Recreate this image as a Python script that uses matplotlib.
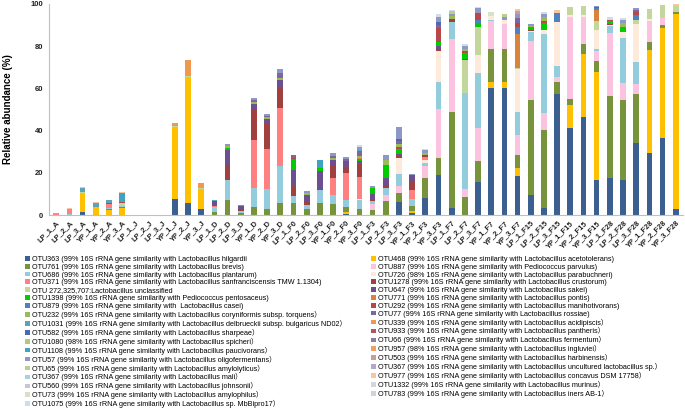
import matplotlib
matplotlib.use('Agg')
import matplotlib.pyplot as plt
from matplotlib.patches import Patch
import numpy as np

plt.rcParams['font.family'] = ['Liberation Sans', 'Noto Sans CJK SC', 'DejaVu Sans']

samples = ['LP_1_A', 'LP_2_A', 'LP_3_A', 'YP_1_A', 'YP_2_A', 'YP_3_A',
           'LP_1_J', 'LP_2_J', 'LP_3_J', 'YP_1_J', 'YP_2_J', 'YP_3_J',
           'LP_1_D', 'LP_2_D', 'LP_3_D', 'YP_1_D', 'YP_2_D', 'YP_3_D',
           'LP_1_F0', 'LP_2_F0', 'LP_3_F0', 'YP_1_F0', 'YP_2_F0', 'YP_3_F0',
           'LP_1_F3', 'LP_2_F3', 'LP_3_F3', 'YP_1_F3', 'YP_2_F3', 'YP_3_F3',
           'LP_1_F7', 'LP_2_F7', 'LP_3_F7', 'YP_1_F7', 'YP_2_F7', 'YP_3_F7',
           'LP_1_F15', 'LP_2_F15', 'LP_3_F15', 'YP_1_F15', 'YP_2_F15', 'YP_3_F15',
           'LP_1_F28', 'LP_2_F28', 'LP_3_F28', 'YP_1_F28', 'YP_2_F28', 'YP_3_F28']
N = len(samples)

#            A                          J                          D                              F0                          F3                            F7                              F15                              F28
otu363  = [0,0,1.4,0,0,0,              0,0,0,7.4,5.7,2.7,         0,0,0,0,0,0,                   0,0,0,0,0.5,0,              0,0,6.0,1.0,8.2,18.9,         3.2,0,15.7,60.2,60.2,18.5,     9.5,3.2,57.4,41.2,46.3,16.6,     17.3,16.6,34.1,29.3,36.6,3.0]
otu468  = [0,0,8.6,3.3,2.4,3.4,        0,0,0,34.3,59.6,9.5,       0,0,0,0,0,0,                   0,0,0,0,0.9,0,              0,0,0,1.0,0,0,                0,0,0,2.6,3.0,4.0,             0,0,0,10.9,29.9,51.4,            0,0,0,48.7,51.8,92.4]
otu761  = [0,0.2,0,0,0.3,0.4,          0,0,0,0,0,0,               1.5,7.0,0.8,3.8,2.7,5.9,       5.7,2.7,5.9,5.1,2.4,3.0,    2.6,6.7,4.6,2.5,9.5,8.2,      45.6,8.7,9.7,15.8,15.4,5.9,    45.2,37.2,5.8,3.1,4.9,4.9,       39.1,37.9,23.1,3.8,1.5,0.8]
otu887  = [0,0,0,0,0,0,                0,0,0,0,0,0,               0,0,0,0,0,0,                   0,0,0,0,0,0,                2.6,3.0,3.0,0,5.4,23.0,       34.6,3.7,15.6,13.4,12.0,9.6,   27.7,7.9,2.1,38.6,12.7,4.6,      29.7,8.1,5.1,10.3,3.3,0]
otu686  = [0,0.4,0.6,0.6,0.8,0.7,      0,0,0,0,0,0,               2.2,9.8,1.3,9.2,9.6,17.2,      3.3,1.9,5.8,4.4,3.5,4.2,    1.2,3.1,5.7,2.9,1.4,12.7,     7.9,45.6,26.2,0.5,0,10.8,      4.1,37.6,5.1,0,0,1.0,            3.3,21.4,10.0,0,0,0]
otu726  = [0,0,0,0,0,0,                0,0,0,0,0,0,               0,0,0,0,0,0,                   0,0,0,0,0,0.5,              0,0,7.8,0,1.6,14.7,           0,0,8.4,1.8,2.0,20.3,          0.5,1.9,20.9,1.2,0.9,9.0,        0.6,2.8,18.2,0.6,0,0]
otu371  = [0.3,2.2,0,0,1.5,0,          0,0,0,0,0,0,               0.4,0,0,22.7,19.1,27.8,        0,0,0,7.8,12.4,10.3,        0,0,0,4.6,1.2,0,              0,0,0,0,0,0,                   0,0,0,0,0,0,                     0,0,0,0,0,0]
otu1278 = [0,0,0,0,0,0,                0,0,0,0,0,0,               0,7.1,0.8,13.9,11.6,10.0,      4.6,2.2,0.8,6.2,2.8,6.1,    0.6,1.2,0.8,4.3,1.2,1.2,      1.6,0,0,0,0,0,                 0.8,0,0,0,0,0,                   0.6,0,0,0,0,0]
otu272  = [0.2,0,0.5,0,0,1.0,          0,0,0,0.4,0.7,0.4,         0,0,0,0,0,0,                   0,0,0,0,0,0,                0,0,0,0,0,0,                  0,15.5,13.7,0,0,0.8,           0,0,0,3.6,4.5,4.3,               0,0,2.0,4.9,6.5,2.8]
otu647  = [0,0,0,0,0,0,                0,0,0,0,0,0,               2.3,6.8,1.5,2.8,2.5,3.0,       7.8,2.7,8.4,2.6,3.0,1.5,    3.0,3.7,1.0,2.7,0,1.5,        0,0.5,0,0,0,0,                 0,0,0,0,0,0,                     0,0,0,0,0,0]
otu1398 = [0,0,0,0,0,0,                0,0,0,0,0,0,               0,1.2,0,0,0,0,                 5.1,0,1.4,0,0,0.8,          3.0,5.9,2.5,0,0,2.0,          0,3.0,1.6,0,0,0,               1.5,3.2,0,0,0,0,                 1.2,2.5,0,0,0,0]
otu771  = [0,0,0,0,0,0,                0,0,0,0,0,0,               0,0,0,0,0,0,                   0,0,0,0,0,0.6,              0,0,0,0,0,0,                  0,0,0,0,0,16.0,                0,0,0,0,0,5.5,                   0,0,0,0,0,0]
otu879  = [0,0,0,0,0,0,                0,0,0,0,0,0,               0,0,0,0,0,0,                   0,0,0,0,0,0,                0,0,0,0,0,0,                  0,0,1.5,0,0,3.0,               0,0,4.2,0,0,0.8,                 0,0,2.5,0,0,0]
otu292  = [0,0,0,0,0.6,0.6,            0,0,0,0,0,0,               0,0,0,0,0,0,                   0.6,0,0,0,0,0,              0,0,0.8,0,0,6.5,              0,0.8,3.2,0,0,2.0,             0,0.8,0,0,0,0.6,                 0.5,0,1.0,0,0,0]
otu232  = [0,0,0,0,0,0,                0,0,0,0,0,0,               0,0.7,0,1.0,0.8,0.9,           0,0.8,0,0.8,0,0.8,          0,2.4,1.5,0,0.8,0,            1.5,1.0,0,0,0,0,               0.5,2.0,0,0,0,0,                 0,1.5,0,0,0,0]
otu77   = [0,0,0,0,0,0,                0,0,0,0,0,0,               0,0,0,1.0,0.8,2.5,             1.1,0,0,1.0,1.0,2.3,        0,0,1.5,0,0,1.5,              0,0,0,0,0,2.5,                 0,0,0,0,0,0,                     0,0,1.2,0,0,0]
otu1031 = [0,0,1.5,1.8,1.5,0,          0,0,0,0,0,0,               0.6,0,0.4,0,0,0,               0,0,0,0,0,0.8,              0,0,0,0,0,0,                  0,0,0,0,0,0,                   0,0,0,0,0,0,                     0,0,0,0,0,0]
otu339  = [0,0,0,0,0,0,                0,0,0,1.5,7.4,2.4,         0,0,0,0,0,0,                   0,0,0,0,0,0,                0,0,0,0,0,0,                  0,0,0,0,0,0,                   0,0,0,0,0,0,                     0,0,0,0,0,0]
otu582  = [0,0,0,0,0,0,                0,0,0,0,0,0,               0,0,0,0,0,0,                   0,0,0,0,0,0,                0,0,1.0,0,0,1.5,              0,0,0,0,0,0,                   0,0,0,0,0,0,                     0,0,0,0,0,0]
otu933  = [0.0] * N
otu1080 = [0.0] * N
otu66   = [0.0] * N
otu1108 = [0,0,0,0,0,4.5,              0,0,0,0,0,0,               0,0,0,0,0,0,                   0,0,3.8,0,0,0,              0,0,0,0,0,0,                  0,0,0,0,0,0,                   0,0,0,0,0,0,                     0,0,0,0,0,0]
otu957  = [0.0] * N
otu57   = [0,0,0,0,0,0,                0,0,0,0,0,0,               0,0.9,0,1.0,0.6,1.8,           0,1.1,0,1.3,0.8,1.5,        0.8,2.4,5.3,0.3,1.5,2.0,      1.0,1.2,2.5,0,1.3,1.9,         0.8,1.6,0,0,0,0.5,               0,1.4,1.1,0,0,0]
otu503  = [0.3,0,0,0,0,0,              0,0,0,0,0,0,               0,0,0,0,0,0,                   0,0,0,0,0,0,                0,0,0,0,0,0,                  0,0,0,0,0,1.5,                 0,0,0,0,0,0,                     0,0,0,0,0,0]
otu65   = [0,0,0,0,0,0,                0,0,0,0,0,0,               0,0,0,0,0,0,                   0,0,0,0,0,0,                0,0,0,0,0,0,                  1.2,0,0,0,1.5,0,               0,0,0,0,0,0,                     0,0,0,0,0,0]
otu367u = [0.0] * N
otu367  = [0.0] * N
otu977  = [0,0.4,0.5,0.3,0,0.4,        0,0,0,0,0,0,               0,0,0,0,0,0,                   0,0,0,0,0,0,                0,0,0,0,0,0,                  0,0,0,0,0,1.0,                 0,0,1.5,0,0,0,                   0,0,0,0,0,1.0]
otu560  = [0.0] * N
otu1332 = [0.0] * N
otu73   = [0,0,0,0,0,0,                0,0,0,0,0,0,               0,0,0,0,0,0,                   0,0,0,0,0,0,                0,0,0,0,0,0,                  0,0,0,1.9,0,0,                 0,0,0,0,0,0,                     0,0,0,0,0,0]
otu783  = [0.0] * N
otu1075 = [0,0,0,0,0,0,                0,0,0,0,0,0,               0,0,0,0,0,0,                   0,0,0,0,0,0.7,              0,0,0.3,0,0.6,1.7,            0.7,1.0,0.5,0,0,0,             0,1.0,0,0,0,0,                   1.4,1.0,0,0,0,0]

S = "16S rRNA gene similarity with"
left_col = [
    ("OTU363 (99% " + S + " Lactobacillus hilgardii", otu363, '#3B5F8F'),
    ("OTU761 (99% " + S + " Lactobacillus brevis)", otu761, '#77933C'),
    ("OTU686 (99% " + S + " Lactobacillus plantarum)", otu686, '#93CDDD'),
    ("OTU371 (99% " + S + " Lactobacillus sanfranciscensis TMW 1.1304)", otu371, '#FF8080'),
    ("OTU 272,325,707:Lactobacillus unclassified", otu272, '#C3D69B'),
    ("OTU1398 (99% " + S + " Pediococcus pentosaceus)", otu1398, '#00CC00'),
    ("OTU879 (99% " + S + "  Lactobacillus casei)", otu879, '#4F81BD'),
    ("OTU232 (99% " + S + " Lactobacillus coryniformis subsp. torquens）", otu232, '#9BBB59'),
    ("OTU1031 (99% " + S + " Lactobacillus delbrueckii subsp. bulgaricus ND02）", otu1031, '#5BA3B8'),
    ("OTU582 (99% " + S + " Lactobacillus sharpeae）", otu582, '#4E68AE'),
    ("OTU1080 (98% " + S + " Lactobacillus spicheri）", otu1080, '#B3C87A'),
    ("OTU1108 (99% " + S + " Lactobacillus paucivorans）", otu1108, '#3FA3C2'),
    ("OTU57 (99% " + S + " Lactobacillus oligofermentans）", otu57, '#8E98C6'),
    ("OTU65 (99% " + S + " Lactobacillus amylolyticus）", otu65, '#B9CF8E'),
    ("OTU367 (99% " + S + " Lactobacillus mali）", otu367, '#A9CFE3'),
    ("OTU560 (99% " + S + " Lactobacillus johnsonii）", otu560, '#C6C6D8'),
    ("OTU73 (99% " + S + " Lactobacillus amylophilus）", otu73, '#D8E0C6'),
    ("OTU1075 (99% " + S + " Lactobacillus sp. MbBipro17）", otu1075, '#CFDDEA'),
]
right_col = [
    ("OTU468 (99% " + S + " Lactobacillus acetotolerans)", otu468, '#FFC000'),
    ("OTU887 (99% " + S + " Pediococcus parvulus)", otu887, '#FBC3E0'),
    ("OTU726 (98% " + S + " Lactobacillus parabuchneri)", otu726, '#FDEADA'),
    ("OTU1278 (99% " + S + " Lactobacillus crustorum)", otu1278, '#A0413F'),
    ("OTU647 (99% " + S + " Lactobacillus sakei)", otu647, '#6B4F8E'),
    ("OTU771 (99% " + S + " Lactobacillus pontis)", otu771, '#D8843C'),
    ("OTU292 (99% " + S + " Lactobacillus manihotivorans)", otu292, '#B8474A'),
    ("OTU77 (99% " + S + " Lactobacillus rossiae)", otu77, '#8064A2'),
    ("OTU339 (99% " + S + " Lactobacillus acidipiscis）", otu339, '#F0984E'),
    ("OTU933 (99% " + S + " Lactobacillus pantheris）", otu933, '#AA5A5C'),
    ("OTU66 (99% " + S + " Lactobacillus fermentum）", otu66, '#8C7AA8'),
    ("OTU957 (98% " + S + " Lactobacillus ingluviei）", otu957, '#F2A060'),
    ("OTU503 (99% " + S + " Lactobacillus harbinensis）", otu503, '#CF9A9A'),
    ("OTU367 (99% " + S + " Lactobacillus uncultured lactobacillus sp.）", otu367u, '#B5A6CE'),
    ("OTU977 (99% " + S + " Lactobacillus concavus DSM 17758）", otu977, '#F9C59A'),
    ("OTU1332 (99% " + S + " Lactobacillus murinus）", otu1332, '#D6D6D6'),
    ("OTU783 (99% " + S + " Lactobacillus iners AB-1）", otu783, '#D2D2DE'),
]

# stacking order: legend rows read left-to-right
stack = []
for i in range(max(len(left_col), len(right_col))):
    if i < len(left_col):
        stack.append(left_col[i])
    if i < len(right_col):
        stack.append(right_col[i])

fig = plt.figure(figsize=(6.85, 4.11), dpi=100)
ax = fig.add_axes([49/685, 1-215/411, 634/685, 211/411])
x = np.arange(N)
bottom = np.zeros(N)
for label, vals, col in stack:
    v = np.array(vals, dtype=float)
    ax.bar(x, v, bottom=bottom, width=0.43, color=col, linewidth=0)
    bottom += v

ax.set_xlim(-0.55, N - 0.45)
ax.set_ylim(0, 100)
ax.set_yticks([0, 20, 40, 60, 80, 100])
ax.set_yticklabels(['0', '20', '40', '60', '80', '100'], fontsize=5.5, fontweight='bold')
ax.set_xticks(x)
ax.set_xticklabels(samples, rotation=45, ha='right', rotation_mode='anchor',
                   fontsize=5.4, fontweight='bold')
ax.tick_params(axis='both', length=0, pad=4, colors='#222222')
ax.tick_params(axis='x', pad=3)
for s in ['top', 'right']:
    ax.spines[s].set_visible(False)
for s in ['left', 'bottom']:
    ax.spines[s].set_color('#BFBFBF')
    ax.spines[s].set_linewidth(0.8)
ax.set_ylabel('Relative abundance (%)', fontsize=7, fontweight='bold')
ax.yaxis.set_label_coords(-0.056, 0.5)

lh = [Patch(facecolor=c, edgecolor='none') for _, _, c in left_col]
ll = [l for l, _, _ in left_col]
rh = [Patch(facecolor=c, edgecolor='none') for _, _, c in right_col]
rl = [l for l, _, _ in right_col]
kw = dict(loc='upper left', frameon=False, fontsize=5.2, handlelength=0.65,
          handleheight=0.65, handletextpad=0.35, labelspacing=0.11,
          borderpad=0, borderaxespad=0)
fig.legend(lh, ll, bbox_to_anchor=(25/685, 1-256/411), **kw)
fig.legend(rh, rl, bbox_to_anchor=(371/685, 1-256/411), **kw)

fig.savefig('out.png', dpi=100)
